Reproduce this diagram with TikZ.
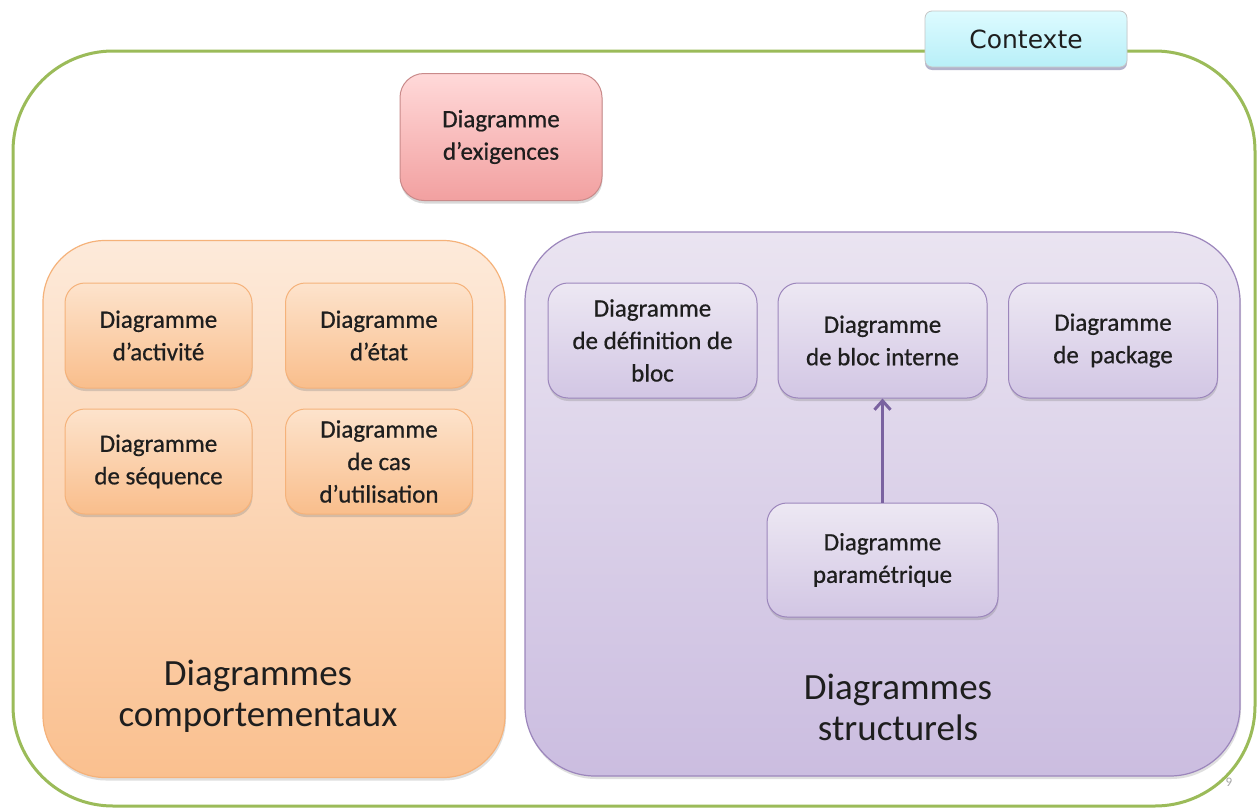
\documentclass[tikz,border=0pt]{standalone}
\usepackage{fontspec}
\usetikzlibrary{arrows.meta,shadows}
\newfontfamily\boxfont[FakeBold=0.6]{Carlito}
\newfontfamily\titlefont{Carlito}
\newfontfamily\tagfont{DejaVu Sans}
\definecolor{framegreen}{HTML}{9BBB59}
\definecolor{txt}{HTML}{1E1E1E}
\definecolor{orTop}{HTML}{FDEADA}
\definecolor{orBot}{HTML}{FAC08F}
\definecolor{orLine}{HTML}{F5B27A}
\definecolor{orSmTop}{HTML}{FDE3CC}
\definecolor{orSmBot}{HTML}{F9BE8C}
\definecolor{puTop}{HTML}{EAE4F1}
\definecolor{puBot}{HTML}{CBBDE0}
\definecolor{puLine}{HTML}{9C86BC}
\definecolor{puSmTop}{HTML}{EDE8F3}
\definecolor{puSmBot}{HTML}{D2C6E4}
\definecolor{arrowpu}{HTML}{7A62A0}
\definecolor{rdTop}{HTML}{FFD9D9}
\definecolor{rdBot}{HTML}{F2A0A0}
\definecolor{rdLine}{HTML}{C98A8A}
\definecolor{cyTop}{HTML}{DDFBFF}
\definecolor{cyBot}{HTML}{B8EFF8}
\tikzset{
  group/.style={rounded corners=#1, line width=1.2pt, drop shadow={shadow xshift=1pt, shadow yshift=-3pt, opacity=0.25}},
  orgroup/.style={group=62pt, draw=orLine, top color=orTop, bottom color=orBot},
  pugroup/.style={group=70pt, draw=puLine, top color=puTop, bottom color=puBot},
  smallbox/.style={rounded corners=20pt, line width=1pt, align=center, text=txt,
    font=\boxfont\fontsize{25}{32.5}\selectfont, inner sep=0pt,
    drop shadow={shadow xshift=0.5pt, shadow yshift=-3pt, opacity=0.3}},
  orbox/.style={smallbox, draw=orLine, top color=orSmTop, bottom color=orSmBot,
    minimum width=187pt, minimum height=105pt},
  pubox/.style={smallbox, draw=puLine, top color=puSmTop, bottom color=puSmBot,
    minimum width=209pt, minimum height=115pt},
  grouplabel/.style={align=center, text=txt, font=\titlefont\fontsize{37}{41}\selectfont},
}
\begin{document}
\begin{tikzpicture}[x=1pt,y=-1pt]
  \useasboundingbox (0,0) rectangle (1259,811);
  \fill[white] (0,0) rectangle (1259,811);

  % outer context frame
  \draw[framegreen, line width=3pt, rounded corners=100pt] (13,51) rectangle (1255,806);

  % context tag
  \node[rounded corners=7pt, draw=gray!45, line width=0.8pt, top color=cyTop, bottom color=cyBot,
        minimum width=202pt, minimum height=56pt, inner sep=0pt,
        drop shadow={shadow xshift=0pt, shadow yshift=-3pt, opacity=0.5, fill=gray!80!blue},
        text=txt, font=\tagfont\fontsize{25}{28}\selectfont]
        (ctx) at (1026,39) {Contexte};

  % requirements diagram
  \node[smallbox, rounded corners=24pt, draw=rdLine, top color=rdTop, bottom color=rdBot,
        minimum width=202pt, minimum height=127pt] (req) at (501,137) {Diagramme\\d’exigences};

  % behavioural group
  \node[orgroup, minimum width=462pt, minimum height=537pt] (beh) at (274,509) {};
  \node[orbox] (act) at (158.5,335.5) {Diagramme\\d’activité};
  \node[orbox] (etat) at (379,335.5) {Diagramme\\d’état};
  \node[orbox] (seq) at (158.5,461.5) {Diagramme\\de séquence};
  \node[orbox] (cas) at (379,461.5) {Diagramme\\de cas\\d’utilisation};
  \node[grouplabel] (behlbl) at (258,696) {Diagrammes\\comportementaux};

  % structural group
  \node[pugroup, minimum width=715pt, minimum height=544pt] (str) at (882.5,504) {};
  \node[pubox] (bdd) at (652.5,340.5) {Diagramme\\de définition de\\bloc};
  \node[pubox] (ibd) at (882.5,340.5) {Diagramme\\de bloc interne};
  \node[pubox] (pkg) at (1113,340.5) {Diagramme\\de\ \ package};
  \node[pubox, minimum width=231pt, minimum height=114pt] (par) at (882.5,560) {Diagramme\\paramétrique};
  \node[grouplabel] (strlbl) at (898,707) {Diagrammes\\structurels};

  \draw[arrowpu, line width=3pt, -{Straight Barb[length=9pt, width=16pt, line width=3pt]}] (par.north) -- (ibd.south);

  % page number
  \node[text=gray!70, font=\titlefont\fontsize{13}{15}\selectfont] (pgno) at (1229,782) {9};
\end{tikzpicture}
\end{document}
